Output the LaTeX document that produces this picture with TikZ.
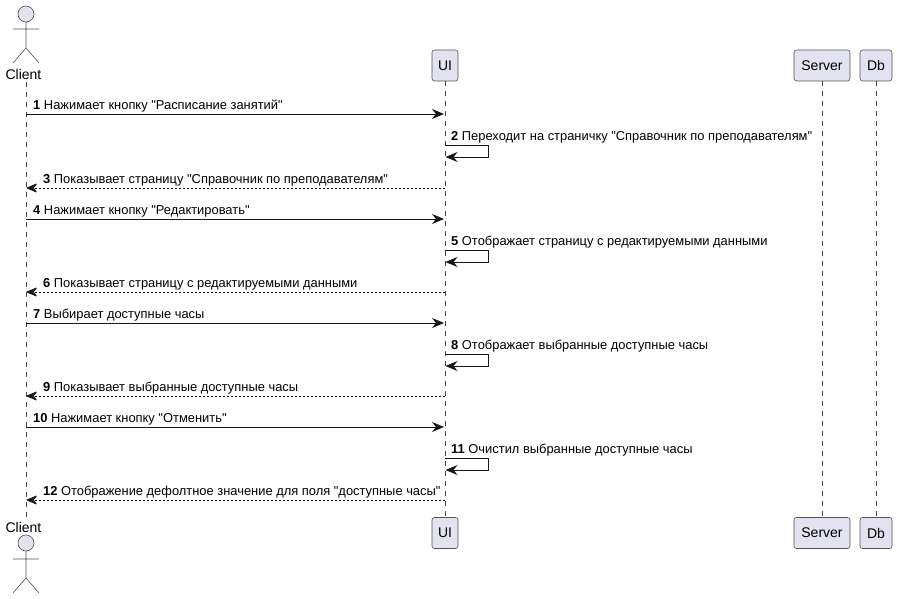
\documentclass[tikz,border=0pt]{standalone}
\usepackage{fontspec}
\newfontfamily\plainsans{Liberation Sans}
\usetikzlibrary{arrows.meta}
\definecolor{pfill}{HTML}{E2E2F0}
\definecolor{pline}{HTML}{181818}
\tikzset{
  x=1pt,y=-1pt,
  partbox/.style={draw=pline!75,fill=pfill,rounded corners=2.5pt,line width=.6pt,minimum height=31pt,inner sep=0pt,font=\plainsans\fontsize{14}{16}\selectfont},
  actorline/.style={draw=pline!75,line width=.6pt},
  lifeline/.style={draw=pline!80,line width=.5pt,dash pattern=on 5pt off 5pt},
  msg/.style={draw=pline,line width=.9pt,-{Stealth[length=12pt,width=10pt,inset=4pt]}},
  ret/.style={msg,dash pattern=on 2pt off 2pt,-{Stealth[length=12pt,width=10pt,inset=4pt,round]}},
  msgtext/.style={anchor=base west,inner sep=0pt,font=\plainsans\fontsize{12.9}{15}\selectfont},
  acttext/.style={inner sep=0pt,anchor=base,font=\plainsans\fontsize{14}{16}\selectfont},
}
\begin{document}
\begin{tikzpicture}
\useasboundingbox (0,0) rectangle (897,599);
% participants
\node[partbox,minimum width=26pt] (ui) at (445,65.5) {UI};
\node[partbox,minimum width=56pt] (server) at (822,65.5) {Server};
\node[partbox,minimum width=32pt] (db) at (876,65.5) {Db};
\node[partbox,minimum width=26pt] (uib) at (445,533) {UI};
\node[partbox,minimum width=56pt] (serverb) at (822,533) {Server};
\node[partbox,minimum width=32pt] (dbb) at (876,533) {Db};
\node[acttext] (client) at (23.5,80) {Client};
\node[acttext] (clientb) at (23.5,532) {Client};
\coordinate (ctop) at (26,82);
\coordinate (cbot) at (26,517);
% lifelines
\draw[lifeline] (ctop) -- (cbot);
\draw[lifeline] (ui.south) -- (uib.north);
\draw[lifeline] (server.south) -- (serverb.north);
\draw[lifeline] (db.south) -- (dbb.north);
% actors
\draw[actorline,fill=pfill] (26,14) circle (8);
\draw[actorline] (26,22) -- (26,48) (13,29) -- (39,29) (13,63) -- (26,48) -- (39,63);
\draw[actorline,fill=pfill] (26,543) circle (8);
\draw[actorline] (26,551) -- (26,578) (13,559) -- (39,559) (13,593) -- (26,578) -- (39,593);
% messages: client to UI
\foreach \n/\y/\t in {1/114/{Нажимает кнопку "Расписание занятий"},4/219/{Нажимает кнопку "Редактировать"},7/323/{Выбирает доступные часы},10/427/{Нажимает кнопку "Отменить"}}{
  \coordinate (a\n) at (26,\y);
  \coordinate (b\n) at (444,\y);
  \draw[msg] (a\n) -- (b\n);
  \node[msgtext] (t\n) at (33,\y-4.5) {\textbf{\n} \t};
}
% messages: UI to itself
\foreach \n/\y/\t in {2/145/{Переходит на страничку "Справочник по преподавателям"},5/250/{Отображает страницу с редактируемыми данными},8/354/{Отображает выбранные доступные часы},11/458/{Очистил выбранные доступные часы}}{
  \coordinate (a\n) at (445,\y);
  \coordinate (m\n) at (488,\y);
  \coordinate (n\n) at (488,\y+12);
  \coordinate (b\n) at (445.5,\y+12);
  \draw[msg] (a\n) -- (m\n) -- (n\n) -- (b\n);
  \node[msgtext] (t\n) at (451,\y-4.5) {\textbf{\n} \t};
}
% messages: UI back to client
\foreach \n/\y/\t in {3/188/{Показывает страницу "Справочник по преподавателям"},6/292/{Показывает страницу с редактируемыми данными},9/396/{Показывает выбранные доступные часы},12/500/{Отображение дефолтное значение для поля "доступные часы"}}{
  \coordinate (a\n) at (445,\y);
  \coordinate (b\n) at (26.5,\y);
  \draw[ret] (a\n) -- (b\n);
  \node[msgtext] (t\n) at (43,\y-4.5) {\textbf{\n} \t};
}
\end{tikzpicture}
\end{document}
